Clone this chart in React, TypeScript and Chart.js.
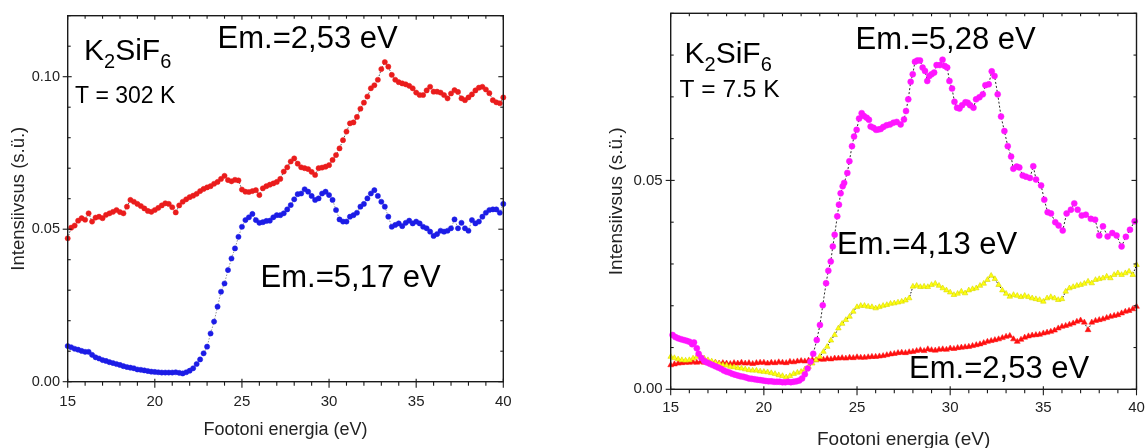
import React, { useEffect, useRef } from 'react';
import { Chart, registerables } from 'chart.js';

Chart.register(...registerables);

const FONT = '"Liberation Sans", Arial, Helvetica, sans-serif';

// Photon energy grid (eV) shared by the densely sampled spectra
const energy = [
  15, 15.2, 15.4, 15.6, 15.8, 16, 16.2, 16.4, 16.6, 16.8,
  17, 17.2, 17.4, 17.6, 17.8, 18, 18.2, 18.4, 18.6, 18.8,
  19, 19.2, 19.4, 19.6, 19.8, 20, 20.2, 20.4, 20.6, 20.8,
  21, 21.2, 21.4, 21.6, 21.8, 22, 22.2, 22.4, 22.6, 22.8,
  23, 23.2, 23.4, 23.6, 23.8, 24, 24.2, 24.4, 24.6, 24.8,
  25, 25.2, 25.4, 25.6, 25.8, 26, 26.2, 26.4, 26.6, 26.8,
  27, 27.2, 27.4, 27.6, 27.8, 28, 28.2, 28.4, 28.6, 28.8,
  29, 29.2, 29.4, 29.6, 29.8, 30, 30.2, 30.4, 30.6, 30.8,
  31, 31.2, 31.4, 31.6, 31.8, 32, 32.2, 32.4, 32.6, 32.8,
  33, 33.2, 33.4, 33.6, 33.8, 34, 34.2, 34.4, 34.6, 34.8,
  35, 35.2, 35.4, 35.6, 35.8, 36, 36.2, 36.4, 36.6, 36.8,
  37, 37.2, 37.4, 37.6, 37.8, 38, 38.2, 38.4, 38.6, 38.8,
  39, 39.2, 39.4, 39.6, 39.8, 40,
];

// T = 302 K, Em. = 2,53 eV (red)
const rtEm253 = [
  0.0470, 0.0505, 0.0512, 0.0528, 0.0536, 0.0531, 0.0552, 0.0525, 0.0538, 0.0541,
  0.0536, 0.0547, 0.0552, 0.0557, 0.0563, 0.0556, 0.0552, 0.0574, 0.0596, 0.0590,
  0.0583, 0.0576, 0.0568, 0.0560, 0.0557, 0.0563, 0.0570, 0.0578, 0.0585, 0.0583,
  0.0572, 0.0555, 0.0578, 0.0590, 0.0598, 0.0605, 0.0610, 0.0616, 0.0625, 0.0632,
  0.0637, 0.0641, 0.0649, 0.0655, 0.0665, 0.0675, 0.0661, 0.0657, 0.0662, 0.0660,
  0.0630, 0.0623, 0.0622, 0.0625, 0.0628, 0.0612, 0.0634, 0.0641, 0.0646, 0.0650,
  0.0655, 0.0665, 0.0689, 0.0703, 0.0722, 0.0732, 0.0715, 0.0703, 0.0700, 0.0697,
  0.0688, 0.0678, 0.0700, 0.0702, 0.0705, 0.0710, 0.0727, 0.0743, 0.0765, 0.0792,
  0.0820, 0.0847, 0.0850, 0.0868, 0.0895, 0.0915, 0.0935, 0.0962, 0.0972, 0.0990,
  0.1025, 0.1048, 0.1033, 0.1006, 0.0990, 0.0982, 0.0978, 0.0975, 0.0970, 0.0962,
  0.0948, 0.0940, 0.0940, 0.0955, 0.0967, 0.0951, 0.0951, 0.0948, 0.0940, 0.0929,
  0.0945, 0.0956, 0.0950, 0.0929, 0.0923, 0.0932, 0.0942, 0.0955, 0.0964, 0.0967,
  0.0958, 0.0946, 0.0923, 0.0916, 0.0913, 0.0932,
];

// T = 302 K, Em. = 5,17 eV (blue)
const rtEm517 = [
  0.0117, 0.0113, 0.0108, 0.0105, 0.0101, 0.0098, 0.0098, 0.0088, 0.0080, 0.0076,
  0.0071, 0.0068, 0.0064, 0.0061, 0.0058, 0.0055, 0.0051, 0.0048, 0.0046, 0.0044,
  0.0040, 0.0039, 0.0037, 0.0035, 0.0033, 0.0032, 0.0031, 0.0030, 0.0030, 0.0030,
  0.0030, 0.0031, 0.0029, 0.0027, 0.0031, 0.0036, 0.0044, 0.0058, 0.0073, 0.0093,
  0.0115, 0.0158, 0.0197, 0.0246, 0.0295, 0.0322, 0.0366, 0.0404, 0.0437, 0.0475,
  0.0508, 0.0530, 0.0539, 0.0550, 0.0530, 0.0521, 0.0523, 0.0527, 0.0528, 0.0539,
  0.0546, 0.0546, 0.0552, 0.0565, 0.0579, 0.0598, 0.0615, 0.0617, 0.0631, 0.0623,
  0.0609, 0.0596, 0.0601, 0.0617, 0.0623, 0.0612, 0.0596, 0.0563, 0.0532, 0.0525,
  0.0525, 0.0541, 0.0546, 0.0554, 0.0574, 0.0583, 0.0601, 0.0617, 0.0628, 0.0609,
  0.0590, 0.0574, 0.0541, 0.0508, 0.0514, 0.0519, 0.0510, 0.0521, 0.0528, 0.0519,
  0.0525, 0.0519, 0.0508, 0.0503, 0.0492, 0.0478, 0.0484, 0.0495, 0.0492, 0.0495,
  0.0503, 0.0532, 0.0503, 0.0521, 0.0503, 0.0495, 0.0530, 0.0519, 0.0525, 0.0541,
  0.0554, 0.0563, 0.0565, 0.0565, 0.0554, 0.0583,
];

// T = 7.5 K, Em. = 4,13 eV (yellow)
const ltEm413 = [
  0.0078, 0.0075, 0.0072, 0.0070, 0.0069, 0.0070, 0.0074, 0.0078, 0.0080, 0.0074,
  0.0070, 0.0067, 0.0064, 0.0061, 0.0058, 0.0057, 0.0054, 0.0053, 0.0051, 0.0050,
  0.0048, 0.0046, 0.0045, 0.0045, 0.0043, 0.0042, 0.0041, 0.0039, 0.0037, 0.0034,
  0.0032, 0.0029, 0.0032, 0.0037, 0.0040, 0.0042, 0.0048, 0.0054, 0.0062, 0.0070,
  0.0078, 0.0090, 0.0102, 0.0117, 0.0130, 0.0146, 0.0157, 0.0166, 0.0174, 0.0186,
  0.0197, 0.0200, 0.0200, 0.0198, 0.0197, 0.0194, 0.0197, 0.0200, 0.0202, 0.0205,
  0.0206, 0.0208, 0.0210, 0.0213, 0.0218, 0.0246, 0.0248, 0.0245, 0.0246, 0.0245,
  0.0250, 0.0253, 0.0248, 0.0242, 0.0237, 0.0232, 0.0226, 0.0229, 0.0234, 0.0230,
  0.0237, 0.0240, 0.0242, 0.0248, 0.0253, 0.0262, 0.0272, 0.0264, 0.0250, 0.0237,
  0.0229, 0.0222, 0.0226, 0.0224, 0.0221, 0.0224, 0.0221, 0.0218, 0.0216, 0.0214,
  0.0210, 0.0218, 0.0221, 0.0218, 0.0214, 0.0216, 0.0234, 0.0242, 0.0245, 0.0248,
  0.0250, 0.0253, 0.0258, 0.0254, 0.0262, 0.0264, 0.0266, 0.0270, 0.0266, 0.0274,
  0.0278, 0.0274, 0.0278, 0.0282, 0.0274, 0.0298,
];

// T = 7.5 K, Em. = 2,53 eV (red triangles)
const ltEm253 = [
  0.0058, 0.0060, 0.0062, 0.0063, 0.0064, 0.0064, 0.0065, 0.0064, 0.0066, 0.0064,
  0.0064, 0.0063, 0.0064, 0.0062, 0.0063, 0.0062, 0.0061, 0.0063, 0.0062, 0.0064,
  0.0062, 0.0063, 0.0061, 0.0063, 0.0064, 0.0064, 0.0062, 0.0064, 0.0063, 0.0065,
  0.0064, 0.0063, 0.0066, 0.0065, 0.0067, 0.0068, 0.0067, 0.0069, 0.0070, 0.0070,
  0.0072, 0.0071, 0.0073, 0.0072, 0.0074, 0.0074, 0.0075, 0.0074, 0.0076, 0.0075,
  0.0077, 0.0076, 0.0076, 0.0077, 0.0078, 0.0078, 0.0079, 0.0080, 0.0082, 0.0084,
  0.0085, 0.0087, 0.0088, 0.0087, 0.0089, 0.0090, 0.0092, 0.0094, 0.0092, 0.0096,
  0.0094, 0.0093, 0.0095, 0.0096, 0.0095, 0.0098, 0.0097, 0.0099, 0.0100, 0.0101,
  0.0102, 0.0104, 0.0106, 0.0108, 0.0111, 0.0114, 0.0116, 0.0118, 0.0120, 0.0123,
  0.0126, 0.0128, 0.0120, 0.0114, 0.0119, 0.0124, 0.0127, 0.0129, 0.0130, 0.0131,
  0.0134, 0.0136, 0.0138, 0.0141, 0.0146, 0.0150, 0.0152, 0.0155, 0.0158, 0.0162,
  0.0165, 0.0160, 0.0142, 0.0160, 0.0164, 0.0166, 0.0168, 0.0171, 0.0174, 0.0176,
  0.0178, 0.0182, 0.0186, 0.0188, 0.0192, 0.0198,
];

// T = 7.5 K, Em. = 5,28 eV (magenta) – own energy sampling
const ltEm528Energy = [
  15.10, 15.25, 15.40, 15.55, 15.70, 15.85, 16.00, 16.15, 16.25, 16.40,
  16.50, 16.65, 16.80, 16.95, 17.10, 17.25, 17.40, 17.55, 17.70, 17.85,
  18.00, 18.15, 18.30, 18.45, 18.60, 18.75, 18.90, 19.05, 19.20, 19.35,
  19.50, 19.65, 19.80, 19.95, 20.10, 20.25, 20.40, 20.55, 20.70, 20.85,
  21.00, 21.15, 21.30, 21.45, 21.60, 21.75, 21.90, 22.05, 22.20, 22.35,
  22.50, 22.65, 22.84, 23.01, 23.16, 23.34, 23.46, 23.59, 23.70, 23.80,
  23.94, 24.03, 24.12, 24.23, 24.31, 24.48, 24.59, 24.73, 24.84, 24.98,
  25.11, 25.25, 25.37, 25.52, 25.64, 25.73, 25.88, 26.02, 26.14, 26.27,
  26.41, 26.59, 26.77, 26.95, 27.13, 27.34, 27.52, 27.63, 27.75, 27.88,
  27.99, 28.11, 28.24, 28.38, 28.52, 28.65, 28.77, 28.88, 29.00, 29.14,
  29.27, 29.45, 29.59, 29.71, 29.84, 29.96, 30.10, 30.23, 30.37, 30.50,
  30.64, 30.82, 30.94, 31.07, 31.25, 31.39, 31.57, 31.75, 31.89, 32.07,
  32.23, 32.38, 32.55, 32.73, 32.91, 33.09, 33.27, 33.39, 33.57, 33.71,
  33.89, 34.07, 34.28, 34.46, 34.61, 34.88, 35.05, 35.23, 35.41, 35.64,
  35.82, 36.04, 36.25, 36.48, 36.66, 36.84, 37.06, 37.28, 37.55, 37.78,
  38.00, 38.20, 38.45, 38.70, 38.93, 39.20, 39.43, 39.65, 39.90,
];
const ltEm528 = [
  0.0130, 0.0125, 0.0122, 0.0120, 0.0118, 0.0116, 0.0114, 0.0108, 0.0112, 0.0098,
  0.0085, 0.0075, 0.0068, 0.0064, 0.0061, 0.0058, 0.0055, 0.0052, 0.0049, 0.0045,
  0.0042, 0.0040, 0.0037, 0.0035, 0.0033, 0.0031, 0.0030, 0.0028, 0.0026, 0.0025,
  0.0024, 0.0023, 0.0022, 0.0021, 0.0020, 0.0019, 0.0019, 0.0018, 0.0018, 0.0018,
  0.0017, 0.0017, 0.0018, 0.0017, 0.0018, 0.0019, 0.0021, 0.0026, 0.0036, 0.0050,
  0.0066, 0.0085, 0.0118, 0.0154, 0.0201, 0.0254, 0.0284, 0.0306, 0.0342, 0.0370,
  0.0414, 0.0442, 0.0469, 0.0486, 0.0494, 0.0518, 0.0546, 0.0582, 0.0605, 0.0621,
  0.0648, 0.0661, 0.0654, 0.0650, 0.0645, 0.0629, 0.0626, 0.0621, 0.0622, 0.0623,
  0.0628, 0.0632, 0.0634, 0.0638, 0.0640, 0.0634, 0.0646, 0.0666, 0.0694, 0.0736,
  0.0754, 0.0784, 0.0787, 0.0787, 0.0770, 0.0762, 0.0738, 0.0750, 0.0754, 0.0758,
  0.0776, 0.0776, 0.0789, 0.0774, 0.0770, 0.0738, 0.0720, 0.0688, 0.0674, 0.0672,
  0.0680, 0.0687, 0.0686, 0.0680, 0.0674, 0.0694, 0.0699, 0.0706, 0.0728, 0.0730,
  0.0761, 0.0750, 0.0706, 0.0653, 0.0618, 0.0582, 0.0557, 0.0528, 0.0533, 0.0531,
  0.0512, 0.0509, 0.0506, 0.0534, 0.0502, 0.0488, 0.0454, 0.0424, 0.0421, 0.0400,
  0.0392, 0.0380, 0.0421, 0.0430, 0.0445, 0.0430, 0.0416, 0.0418, 0.0408, 0.0406,
  0.0368, 0.0390, 0.0366, 0.0374, 0.0368, 0.0342, 0.0365, 0.0382, 0.0402,
];

const xTitle = 'Footoni energia (eV)';
const yTitle = 'Intensiivsus (s.ü.)';
const formula = [
  { t: 'K' }, { t: '2', sub: true }, { t: 'SiF' }, { t: '6', sub: true },
];

type Piece = { t: string; sub?: boolean };
type Note = { pieces: Piece[]; x: number; y: number; size: number; subSize?: number; subDrop?: number };

const pts = (xs: number[], ys: number[]) => xs.map((x, i) => ({ x, y: ys[i] }));

function notesPlugin(items: Note[]) {
  return {
    id: 'notes',
    afterDraw(chart: any) {
      const ctx = chart.ctx as CanvasRenderingContext2D;
      ctx.save();
      ctx.fillStyle = '#000';
      ctx.textAlign = 'left';
      ctx.textBaseline = 'alphabetic';
      for (const n of items) {
        let x = n.x;
        for (const p of n.pieces) {
          const size = p.sub ? (n.subSize || n.size) : n.size;
          ctx.font = `${size}px ${FONT}`;
          ctx.fillText(p.t, x, n.y + (p.sub ? (n.subDrop || 0) : 0));
          x += ctx.measureText(p.t).width;
        }
      }
      ctx.restore();
    },
  };
}

function framePlugin(xStep: number, xMajor: number, yStep: number, yMajor: number) {
  return {
    id: 'frameTicks',
    afterDatasetsDraw(chart: any) {
      const ctx = chart.ctx as CanvasRenderingContext2D;
      const { left, right, top, bottom } = chart.chartArea;
      const xs = chart.scales.x;
      const ys = chart.scales.y;
      ctx.save();
      ctx.strokeStyle = '#1a1a1a';
      ctx.lineWidth = 1.4;
      ctx.strokeRect(left, top, right - left, bottom - top);
      ctx.lineWidth = 1.1;
      const seg = (x1: number, y1: number, x2: number, y2: number) => {
        ctx.beginPath();
        ctx.moveTo(x1, y1);
        ctx.lineTo(x2, y2);
        ctx.stroke();
      };
      const nx = Math.round((xs.max - xs.min) / xStep);
      for (let i = 0; i <= nx; i++) {
        const v = xs.min + i * xStep;
        const px = xs.getPixelForValue(v);
        const major = Math.abs(v / xMajor - Math.round(v / xMajor)) < 1e-6;
        seg(px, bottom - (major ? 3 : 0), px, bottom + (major ? 6 : 4));
        seg(px, top, px, top + (major ? 4 : 3));
      }
      const ny = Math.round((ys.max - ys.min) / yStep);
      for (let i = 0; i <= ny; i++) {
        const v = ys.min + i * yStep;
        const py = ys.getPixelForValue(v);
        const major = Math.abs(v / yMajor - Math.round(v / yMajor)) < 1e-6;
        seg(left - (major ? 5 : 0), py, left + (major ? 4 : 3), py);
        seg(right - (major ? 5 : 3), py, right, py);
      }
      ctx.restore();
    },
  };
}

function makeConfig(o: {
  datasets: any[];
  padRight: number;
  padTop: number;
  yAxisWidth: number;
  xAxisHeight: number;
  yMax: number;
  tickSizeX: number;
  tickSizeY: number;
  xTickPad: number;
  yTickPad: number;
  xTitleSize: number;
  xTitlePad: number;
  yTitleSize: number;
  yTitlePad: number;
  notes: Note[];
}) {
  return {
    type: 'line' as const,
    data: { datasets: o.datasets },
    options: {
      animation: false as const,
      responsive: false,
      maintainAspectRatio: false,
      devicePixelRatio: 1,
      layout: { padding: { left: 0, top: o.padTop, right: o.padRight, bottom: 0 } },
      plugins: { legend: { display: false }, tooltip: { enabled: false } },
      elements: { line: { tension: 0 } },
      scales: {
        x: {
          type: 'linear' as const,
          min: 15,
          max: 40,
          grid: { display: false, drawTicks: false },
          border: { display: false },
          ticks: {
            stepSize: 5,
            padding: o.xTickPad,
            autoSkip: false,
            maxRotation: 0,
            color: '#222',
            font: { family: FONT, size: o.tickSizeX },
            callback: (v: any) => String(v),
          },
          title: {
            display: true,
            text: xTitle,
            color: '#222',
            font: { family: FONT, size: o.xTitleSize, lineHeight: 1 },
            padding: { top: 0, bottom: o.xTitlePad },
          },
          afterFit: (s: any) => {
            s.height = o.xAxisHeight;
            s.paddingLeft = 0;
            s.paddingRight = 0;
          },
        },
        y: {
          type: 'linear' as const,
          min: 0,
          max: o.yMax,
          grid: { display: false, drawTicks: false },
          border: { display: false },
          ticks: {
            stepSize: 0.05,
            includeBounds: false,
            padding: o.yTickPad,
            color: '#222',
            font: { family: FONT, size: o.tickSizeY },
            callback: (v: any) => Number(v).toFixed(2),
          },
          title: {
            display: true,
            text: yTitle,
            color: '#222',
            font: { family: FONT, size: o.yTitleSize, lineHeight: 1 },
            padding: { top: o.yTitlePad, bottom: 0 },
          },
          afterFit: (s: any) => {
            s.width = o.yAxisWidth;
            s.paddingTop = 0;
            s.paddingBottom = 0;
          },
        },
      },
    },
    plugins: [framePlugin(1, 5, 0.01, 0.05), notesPlugin(o.notes)],
  };
}

function leftConfig() {
  return makeConfig({
    datasets: [
      {
        data: pts(energy, rtEm253),
        showLine: true,
        borderColor: '#222',
        borderWidth: 0.8,
        borderDash: [1.5, 1.5],
        pointRadius: 2.6,
        pointBackgroundColor: '#ea1c1c',
        pointBorderColor: '#ea1c1c',
        pointBorderWidth: 0.5,
        clip: 5,
      },
      {
        data: pts(energy, rtEm517),
        showLine: true,
        borderColor: '#777',
        borderWidth: 0.8,
        borderDash: [1.5, 1.5],
        pointRadius: 2.6,
        pointBackgroundColor: '#1c1ce6',
        pointBorderColor: '#1c1ce6',
        pointBorderWidth: 0.5,
        clip: 5,
      },
    ],
    padRight: 69.7,
    padTop: 15.7,
    yAxisWidth: 67.7,
    xAxisHeight: 66.3,
    yMax: 0.12,
    tickSizeX: 15,
    tickSizeY: 14.5,
    xTickPad: 11,
    yTickPad: 7.7,
    xTitleSize: 18,
    xTitlePad: 8.5,
    yTitleSize: 18.5,
    yTitlePad: 9.5,
    notes: [
      { pieces: formula, x: 84, y: 60, size: 30, subSize: 20, subDrop: 8.3 },
      { pieces: [{ t: 'T = 302 K' }], x: 75, y: 103, size: 23 },
      { pieces: [{ t: 'Em.=2,53 eV' }], x: 217.6, y: 48.3, size: 31 },
      { pieces: [{ t: 'Em.=5,17 eV' }], x: 260.6, y: 287.3, size: 31 },
    ],
  });
}

function rightConfig() {
  return makeConfig({
    datasets: [
      {
        data: pts(ltEm528Energy, ltEm528),
        showLine: true,
        borderColor: '#111',
        borderWidth: 0.9,
        borderDash: [2, 2],
        pointRadius: 3,
        pointBackgroundColor: '#ff14ff',
        pointBorderColor: '#ff14ff',
        pointBorderWidth: 0.5,
        clip: 5,
      },
      {
        data: pts(energy, ltEm413),
        showLine: true,
        borderColor: '#111',
        borderWidth: 1,
        borderDash: [1.5, 1.5],
        pointStyle: 'triangle',
        pointRadius: 3.2,
        pointBackgroundColor: '#ffff10',
        pointBorderColor: '#d8d800',
        pointBorderWidth: 0.6,
        clip: 5,
      },
      {
        data: pts(energy, ltEm253),
        showLine: true,
        borderColor: '#111',
        borderWidth: 0.9,
        borderDash: [1.5, 1.5],
        pointStyle: 'triangle',
        pointRadius: 3.4,
        pointBackgroundColor: '#ff1010',
        pointBorderColor: '#ff1010',
        pointBorderWidth: 0.5,
        clip: 5,
      },
    ],
    padRight: 9.5,
    padTop: 13.3,
    yAxisWidth: 97.7,
    xAxisHeight: 58.7,
    yMax: 0.09,
    tickSizeX: 15,
    tickSizeY: 15,
    xTickPad: 9.7,
    yTickPad: 8,
    xTitleSize: 19,
    xTitlePad: -0.8,
    yTitleSize: 19,
    yTitlePad: 34.4,
    notes: [
      { pieces: formula, x: 111.5, y: 63.3, size: 30, subSize: 20, subDrop: 7.4 },
      { pieces: [{ t: 'T = 7.5 K' }], x: 106.5, y: 96.7, size: 24.5 },
      { pieces: [{ t: 'Em.=5,28 eV' }], x: 282.6, y: 49, size: 31 },
      { pieces: [{ t: 'Em.=4,13 eV' }], x: 264.1, y: 254, size: 31 },
      { pieces: [{ t: 'Em.=2,53 eV' }], x: 336.1, y: 378.3, size: 31 },
    ],
  });
}

export default function App() {
  const leftRef = useRef<HTMLCanvasElement>(null);
  const rightRef = useRef<HTMLCanvasElement>(null);

  useEffect(() => {
    const c1 = new Chart(leftRef.current as HTMLCanvasElement, leftConfig() as any);
    const c2 = new Chart(rightRef.current as HTMLCanvasElement, rightConfig() as any);
    return () => {
      c1.destroy();
      c2.destroy();
    };
  }, []);

  return (
    <div style={{ position: 'absolute', left: 0, top: 0, width: 1146, height: 448, background: '#fff', overflow: 'hidden' }}>
      <canvas ref={leftRef} width={573} height={448} style={{ position: 'absolute', left: 0, top: 0, width: 573, height: 448 }} />
      <canvas ref={rightRef} width={573} height={448} style={{ position: 'absolute', left: 573, top: 0, width: 573, height: 448 }} />
    </div>
  );
}
